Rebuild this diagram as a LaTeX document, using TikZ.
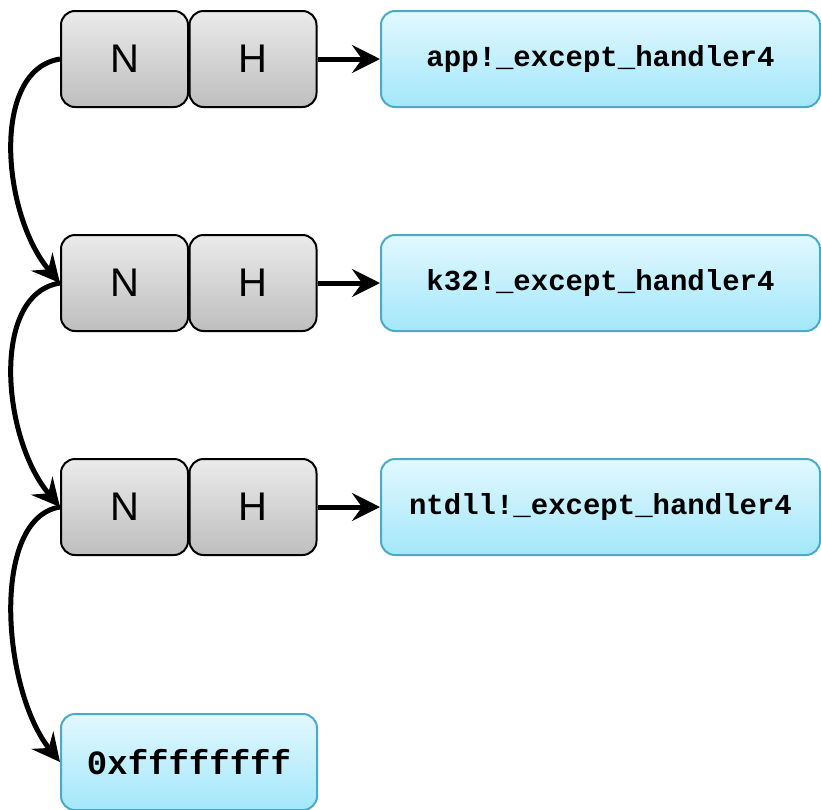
\documentclass[tikz,border=0pt]{standalone}
\usepackage{fontspec}
\setmainfont{Liberation Sans}
\newfontfamily\codefont{Liberation Mono}
\usetikzlibrary{arrows.meta}
\definecolor{greytop}{HTML}{EBEBEB}
\definecolor{greybot}{HTML}{BEBEBE}
\definecolor{bluetop}{HTML}{E2F8FE}
\definecolor{bluebot}{HTML}{A3E7FA}
\definecolor{blueline}{HTML}{4AABC8}
\begin{document}
\begin{tikzpicture}[x=1pt,y=-1pt,
  cell/.style={draw=black,line width=2pt,rounded corners=14pt,
    top color=greytop,bottom color=greybot,minimum width=127pt,
    minimum height=96pt,inner sep=0pt,font=\fontsize{40}{40}\selectfont},
  target/.style={draw=blueline,line width=2pt,rounded corners=14pt,
    top color=bluetop,bottom color=bluebot,minimum height=96pt,
    inner sep=0pt,font=\codefont\bfseries\fontsize{29}{29}\selectfont},
  link/.style={line width=5pt,-{Stealth[length=28pt,width=28pt,inset=10pt]}}]
\useasboundingbox (0,0) rectangle (821,809);
% handler chain records: next pointer (N) and handler (H)
\foreach \i/\y in {1/59,2/283,3/507}{
  \node[cell] (n\i) at (124.5,\y) {N};
  \node[cell] (h\i) at (253,\y) {H};
}
% handler routines
\node[target,minimum width=439pt] (f1) at (600.5,59) {app!\_except\_handler4};
\node[target,minimum width=439pt] (f2) at (600.5,283) {k32!\_except\_handler4};
\node[target,minimum width=439pt] (f3) at (600.5,507) {ntdll!\_except\_handler4};
% end of chain marker
\node[target,minimum width=256pt,font=\codefont\bfseries\fontsize{34}{34}\selectfont] (e) at (189,762) {0xffffffff};
% handler pointers
\foreach \i in {1,2,3}{
  \draw[link] (h\i.east) -- (f\i.west);
}
% next pointers
\draw[link] (n1.west) .. controls (-10,70) and (2,215) .. (n2.west);
\draw[link] (n2.west) .. controls (-10,294) and (2,439) .. (n3.west);
\draw[link] (n3.west) .. controls (-10,518) and (2,690) .. (e.west);
\end{tikzpicture}
\end{document}
